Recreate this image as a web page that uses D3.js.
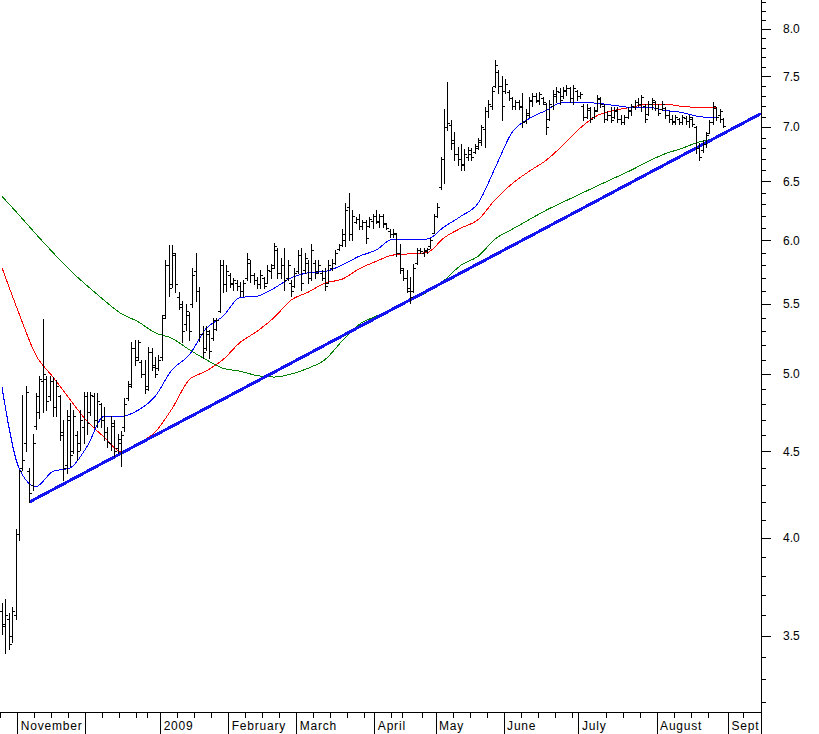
<!DOCTYPE html>
<html><head><meta charset="utf-8">
<script src="https://cdn.jsdelivr.net/npm/d3@7"></script>
<style>body{margin:0;background:#fff;} svg{display:block;}</style>
</head><body>
<svg id="c" width="819" height="734"></svg>
<script>
// ---- data (one bar per trading day, index 0 = first bar) ----
const high = [
3.66,3.68,3.61,3.64,4.05,4.39,4.86,4.92,4.40,4.61,
4.87,4.99,5.39,4.99,4.99,4.98,4.96,4.86,4.70,4.76,
4.81,4.76,4.63,4.76,4.88,4.88,4.88,4.87,4.87,4.81,
4.78,4.65,4.72,4.70,4.61,4.63,4.84,4.95,5.22,5.24,
5.24,5.10,5.10,5.19,5.18,5.12,5.13,5.42,5.84,5.96,
5.96,5.90,5.59,5.52,5.50,5.44,5.78,5.90,5.63,5.34,
5.34,5.31,5.40,5.40,5.84,5.84,5.80,5.74,5.70,5.68,
5.67,5.68,5.90,5.84,5.74,5.71,5.76,5.71,5.80,5.81,
5.98,5.94,5.86,5.94,5.84,5.68,5.78,5.92,5.94,5.90,
5.84,5.97,5.84,5.84,5.76,5.78,5.84,5.85,5.92,5.97,
6.09,6.31,6.40,6.25,6.19,6.22,6.17,6.17,6.19,6.22,
6.25,6.22,6.22,6.14,6.09,6.09,6.06,5.97,5.78,5.76,
5.71,5.81,5.94,5.94,5.94,5.94,6.02,6.22,6.31,6.72,
7.17,7.44,7.07,6.95,6.81,6.84,6.79,6.81,6.80,6.84,
6.90,7.02,7.19,7.26,7.39,7.67,7.57,7.50,7.47,7.36,
7.29,7.26,7.26,7.33,7.17,7.29,7.33,7.33,7.34,7.29,
7.23,7.26,7.36,7.39,7.38,7.39,7.41,7.39,7.41,7.36,
7.34,7.22,7.22,7.19,7.19,7.31,7.29,7.22,7.15,7.19,
7.19,7.19,7.12,7.12,7.19,7.22,7.26,7.28,7.31,7.22,
7.25,7.28,7.25,7.22,7.25,7.19,7.15,7.12,7.12,7.09,
7.12,7.11,7.12,7.10,7.01,6.85,6.88,6.95,7.07,7.24,
7.19,7.17,7.09];
const low = [
3.51,3.42,3.44,3.47,3.58,3.99,4.39,4.50,4.20,4.27,
4.64,4.71,4.75,4.76,4.83,4.72,4.72,4.57,4.33,4.37,
4.41,4.49,4.45,4.51,4.55,4.61,4.73,4.65,4.65,4.65,
4.57,4.53,4.51,4.47,4.49,4.41,4.63,4.83,4.91,5.06,
5.10,4.98,4.87,4.89,5.03,4.98,5.03,5.10,5.40,5.56,
5.63,5.59,5.46,5.22,5.31,5.24,5.48,5.52,5.23,5.11,
5.17,5.11,5.24,5.31,5.44,5.59,5.60,5.63,5.61,5.61,
5.56,5.56,5.68,5.67,5.65,5.62,5.62,5.62,5.66,5.70,
5.78,5.70,5.70,5.61,5.68,5.56,5.63,5.74,5.61,5.74,
5.66,5.68,5.70,5.74,5.68,5.61,5.66,5.76,5.81,5.92,
5.95,5.95,6.00,6.00,6.14,6.09,6.09,5.98,6.11,6.10,
6.14,6.11,6.11,6.09,6.03,6.03,5.87,5.74,5.68,5.59,
5.51,5.59,5.81,5.90,5.87,5.90,5.94,6.06,6.19,6.43,
6.49,6.97,6.79,6.69,6.65,6.60,6.60,6.69,6.69,6.76,
6.79,6.83,6.81,7.10,7.17,7.39,7.33,7.07,7.33,7.26,
7.17,7.17,7.17,7.00,7.04,7.10,7.20,7.24,7.22,7.22,
6.93,7.07,7.17,7.24,7.22,7.28,7.31,7.24,7.22,7.26,
7.28,7.07,7.09,7.05,7.09,7.15,7.19,7.05,7.07,7.05,
7.09,7.05,7.03,7.03,7.09,7.12,7.17,7.20,7.15,7.05,
7.12,7.17,7.16,7.12,7.16,7.09,7.05,7.03,7.03,7.03,
7.03,7.03,7.00,7.01,6.76,6.69,6.77,6.81,6.94,7.03,
7.07,7.05,7.00];
const open = [
3.62,3.56,3.58,3.50,3.60,4.02,4.40,4.55,4.38,4.30,
4.66,4.75,4.95,4.97,4.85,4.95,4.78,4.85,4.60,4.42,
4.70,4.50,4.60,4.55,4.65,4.85,4.75,4.85,4.70,4.80,
4.70,4.62,4.55,4.66,4.52,4.55,4.65,4.84,4.93,5.18,
5.12,5.08,5.00,4.92,5.15,5.05,5.04,5.12,5.42,5.80,
5.65,5.88,5.55,5.48,5.35,5.42,5.50,5.75,5.60,5.28,
5.18,5.28,5.25,5.32,5.45,5.80,5.65,5.72,5.65,5.66,
5.64,5.60,5.70,5.82,5.72,5.68,5.65,5.70,5.66,5.75,
5.80,5.92,5.74,5.80,5.70,5.66,5.64,5.75,5.88,5.76,
5.82,5.70,5.82,5.75,5.74,5.70,5.66,5.78,5.82,5.93,
5.96,6.00,6.28,6.05,6.15,6.18,6.12,6.15,6.12,6.16,
6.20,6.15,6.20,6.13,6.08,6.05,6.05,5.90,5.76,5.70,
5.60,5.60,5.82,5.92,5.90,5.91,5.95,6.06,6.20,6.45,
6.70,7.00,7.02,6.88,6.75,6.70,6.65,6.72,6.75,6.77,
6.80,6.86,6.98,7.15,7.20,7.40,7.55,7.40,7.35,7.34,
7.28,7.20,7.24,7.20,7.06,7.12,7.25,7.30,7.25,7.28,
7.22,7.08,7.20,7.30,7.34,7.30,7.35,7.38,7.28,7.35,
7.30,7.20,7.10,7.16,7.10,7.16,7.27,7.20,7.08,7.12,
7.10,7.15,7.08,7.05,7.10,7.15,7.19,7.24,7.22,7.20,
7.13,7.22,7.24,7.18,7.17,7.18,7.12,7.08,7.05,7.08,
7.05,7.09,7.06,7.08,7.00,6.80,6.78,6.84,6.94,7.05,
7.18,7.12,7.08];
const close = [
3.55,3.60,3.46,3.62,4.02,4.38,4.45,4.88,4.25,4.55,
4.85,4.97,5.00,4.82,4.95,4.78,4.92,4.62,4.40,4.72,
4.48,4.72,4.50,4.70,4.85,4.68,4.86,4.70,4.82,4.70,
4.62,4.56,4.68,4.50,4.58,4.60,4.80,4.92,5.18,5.10,
5.22,5.00,4.90,5.15,5.06,5.00,5.10,5.40,5.80,5.62,
5.90,5.65,5.50,5.30,5.45,5.30,5.72,5.60,5.28,5.15,
5.30,5.16,5.38,5.38,5.80,5.65,5.75,5.66,5.68,5.64,
5.60,5.66,5.85,5.72,5.68,5.65,5.72,5.64,5.76,5.78,
5.95,5.74,5.80,5.68,5.80,5.60,5.74,5.88,5.66,5.86,
5.70,5.92,5.74,5.80,5.70,5.64,5.80,5.82,5.90,5.96,
6.05,6.25,6.05,6.20,6.18,6.12,6.15,6.02,6.18,6.20,
6.16,6.20,6.14,6.10,6.05,6.06,5.90,5.78,5.70,5.62,
5.55,5.78,5.92,5.91,5.92,5.93,6.00,6.20,6.28,6.70,
7.00,7.04,6.85,6.75,6.70,6.66,6.75,6.78,6.72,6.82,
6.88,7.00,7.15,7.22,7.35,7.62,7.40,7.20,7.42,7.28,
7.20,7.24,7.19,7.05,7.14,7.26,7.30,7.26,7.32,7.24,
7.00,7.22,7.32,7.35,7.26,7.36,7.38,7.28,7.38,7.30,
7.32,7.10,7.18,7.08,7.15,7.28,7.22,7.08,7.12,7.07,
7.16,7.08,7.05,7.10,7.16,7.20,7.24,7.22,7.29,7.08,
7.22,7.26,7.18,7.14,7.22,7.12,7.08,7.06,7.10,7.05,
7.10,7.06,7.10,7.03,6.80,6.72,6.84,6.92,7.05,7.20,
7.10,7.15,7.01];

// moving averages, every 5th bar
const maIndex = [0,5,10,15,20,25,30,35,40,45,50,55,60,65,70,75,80,85,90,95,100,
  105,110,115,120,125,130,135,140,145,150,155,160,165,170,175,180,185,190,195,200,205,210];
const maBlue = [4.91,4.40,4.29,4.38,4.40,4.53,4.72,4.72,4.76,4.85,5.03,5.13,5.32,5.41,5.55,5.56,5.62,5.70,5.74,5.75,5.80,
  5.87,5.92,6.01,6.01,6.01,6.11,6.20,6.31,6.62,6.95,7.08,7.16,7.24,7.24,7.23,7.21,7.19,7.19,7.16,7.14,7.10,7.09];
const maRed = [5.78,5.43,5.13,4.98,4.83,4.69,4.59,4.50,4.55,4.62,4.77,4.96,5.02,5.10,5.22,5.30,5.40,5.53,5.59,5.66,5.69,
  5.77,5.83,5.88,5.89,5.90,6.02,6.10,6.17,6.34,6.48,6.59,6.69,6.83,6.99,7.11,7.16,7.19,7.22,7.22,7.20,7.19,7.19];
const maGreen = [6.37,6.21,6.05,5.90,5.76,5.64,5.53,5.43,5.37,5.29,5.25,5.17,5.10,5.04,5.02,4.99,4.98,5.00,5.04,5.10,5.23,
  5.35,5.41,5.47,5.53,5.59,5.68,5.80,5.87,6.01,6.09,6.17,6.25,6.32,6.39,6.46,6.53,6.60,6.68,6.75,6.80,6.86,6.89];

// trend line end points
const trendIndex = [8, 223.2];
const trendValue = [4.20, 7.13];

// axes
const monthIndex = [4.5, 24.5, 46.5, 66.5, 86.5, 109.5, 127.5, 147.5, 169.5, 192.5, 213.5];
const monthLabels = ["November", "", "2009", "February", "March", "April", "May", "June", "July", "August", "Sept"];
const weekIndex = [-0.5, 9.5, 14.5, 19.5, 29.5, 34.5, 39.5, 42.5, 51.5, 56.5, 61.5, 71.5, 76.5, 81.5, 91.5, 96.5,
  101.5, 106.5, 114.5, 117.5, 123.5, 132.5, 137.5, 142.5, 152.5, 157.5, 162.5, 167.5, 177.5, 182.5, 187.5,
  197.5, 202.5, 207.5, 218];
const yMajor = [3.5, 4.0, 4.5, 5.0, 5.5, 6.0, 6.5, 7.0, 7.5, 8.0];
const yMinor = [3.2,3.3,3.4,3.6,3.7,3.8,3.9,4.1,4.2,4.3,4.4,4.6,4.7,4.8,4.9,5.1,5.2,5.3,5.4,5.6,5.7,5.8,5.9,
  6.1,6.2,6.3,6.4,6.6,6.7,6.8,6.9,7.1,7.2,7.3,7.4,7.6,7.7,7.8,7.9,8.1,8.2,8.3];

// ---- drawing ----
const svg = d3.select("#c");
svg.append("rect").attr("width", 819).attr("height", 734).attr("fill", "#fff");

const x = d3.scaleLinear().domain([0, 223.2]).range([2, 761]);
const y = d3.scaleLog().domain([3.5, 8]).range([636, 29]);
const axisX = 761.5, axisY = 712.5;
const px = v => Math.round(v) + 0.5;

const g = svg.append("g").attr("shape-rendering", "crispEdges");

// moving averages
const ma = (vals) => maIndex.map((i, k) => ({i, v: vals[k]}));
const line = d3.line().x(d => x(d.i)).y(d => y(d.v)).curve(d3.curveMonotoneX);
g.append("path").attr("d", line(ma(maGreen))).attr("fill", "none").attr("stroke", "#008000").attr("stroke-width", 1);
g.append("path").attr("d", line(ma(maRed))).attr("fill", "none").attr("stroke", "#ff0000").attr("stroke-width", 1);
g.append("path").attr("d", line(ma(maBlue))).attr("fill", "none").attr("stroke", "#0000ff").attr("stroke-width", 1);

// trend line
g.append("line")
  .attr("x1", x(trendIndex[0])).attr("y1", y(trendValue[0]))
  .attr("x2", x(trendIndex[1])).attr("y2", y(trendValue[1]))
  .attr("stroke", "#1414f0").attr("stroke-width", 3);

// OHLC bars
const bars = g.append("g").attr("stroke", "#000").attr("stroke-width", 1);
high.forEach((h, i) => {
  const xi = px(x(i));
  bars.append("line").attr("x1", xi).attr("x2", xi).attr("y1", Math.round(y(h))).attr("y2", Math.round(y(low[i])) + 1);
  const yo = px(y(open[i])), yc = px(y(close[i]));
  bars.append("line").attr("x1", xi - 2.5).attr("x2", xi).attr("y1", yo).attr("y2", yo);
  bars.append("line").attr("x1", xi).attr("x2", xi + 2.5).attr("y1", yc).attr("y2", yc);
});

// axis frame lines
g.append("line").attr("x1", 0).attr("x2", axisX).attr("y1", axisY).attr("y2", axisY).attr("stroke", "#000");
g.append("line").attr("x1", axisX).attr("x2", axisX).attr("y1", 0).attr("y2", 734).attr("stroke", "#000");

// right axis: minor + major ticks
const yMinorAxis = d3.axisRight(y).tickValues(yMinor).tickSize(5).tickFormat("");
const ya = svg.append("g").attr("transform", `translate(${axisX - 0.5},0)`).attr("shape-rendering", "crispEdges").call(yMinorAxis);
const yMajorAxis = d3.axisRight(y).tickValues(yMajor).tickSize(10).tickPadding(12).tickFormat(d3.format(".1f"));
const yb = svg.append("g").attr("transform", `translate(${axisX - 0.5},0)`).attr("shape-rendering", "crispEdges").call(yMajorAxis);
[ya, yb].forEach(a => { a.select(".domain").remove(); a.selectAll(".tick line").attr("stroke", "#000"); });
yb.selectAll(".tick text").attr("font-family", "Arial, 'Liberation Sans', sans-serif").attr("font-size", 12).attr("fill", "#000");

// bottom axis: weekly ticks and month separators
const xWeek = d3.axisBottom(x).tickValues(weekIndex).tickSize(6).tickFormat("");
const xa = svg.append("g").attr("transform", `translate(0,${axisY - 0.5})`).attr("shape-rendering", "crispEdges").call(xWeek);
const xMonth = d3.axisBottom(x).tickValues(monthIndex).tickSize(22).tickFormat("");
const xb = svg.append("g").attr("transform", `translate(0,${axisY - 0.5})`).attr("shape-rendering", "crispEdges").call(xMonth);
[xa, xb].forEach(a => { a.select(".domain").remove(); a.selectAll(".tick line").attr("stroke", "#000"); });

svg.append("clipPath").attr("id", "labclip").append("rect").attr("x", 0).attr("y", 700).attr("width", axisX - 1).attr("height", 40);
svg.append("g").attr("clip-path", "url(#labclip)")
  .selectAll("text").data(monthIndex).join("text")
  .attr("x", d => x(d) + 3.5).attr("y", 730)
  .attr("font-family", "Arial, 'Liberation Sans', sans-serif").attr("font-size", 12)
  .attr("letter-spacing", "0.8px").attr("fill", "#000")
  .text((d, k) => monthLabels[k]);
</script>
</body></html>
